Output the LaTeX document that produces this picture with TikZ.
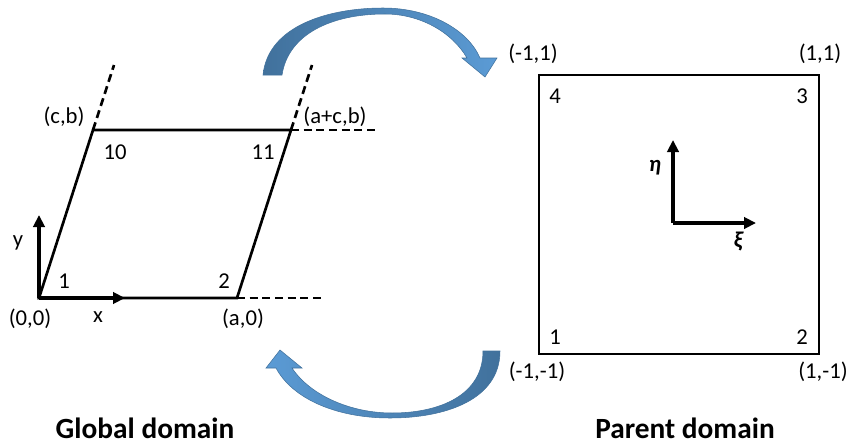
\documentclass[tikz,border=0pt]{standalone}
\usepackage{fontspec}
\setmainfont{Carlito}
\usetikzlibrary{arrows.meta,positioning,calc}
\definecolor{bend}{HTML}{41719C}
\definecolor{bendlt}{HTML}{5B9BD5}
\tikzset{
  edge/.style={line width=2pt,black},
  ext/.style={edge,dash pattern=on 6pt off 3.5pt},
  axis/.style={-{Triangle[length=9pt,width=8.5pt]},line width=2.5pt},
  lbl/.style={font=\fontsize{17}{19}\selectfont,inner sep=0pt},
  title/.style={font=\bfseries\fontsize{22}{25}\selectfont,inner sep=0pt,anchor=base},
  bigarrow/.style={draw=bend,line width=0.4pt}
}

\begin{document}
\begin{tikzpicture}[x=0.75pt,y=-0.75pt]
\useasboundingbox (0,0) rectangle (849,446);
% global domain
\coordinate (n1) at (39,298);
\coordinate (n2) at (237,298);
\coordinate (n11) at (291,130);
\coordinate (n10) at (93,130);
\coordinate (e2) at (323,298);
\coordinate (e11) at (378,130);
\coordinate (u10) at (114,65);
\coordinate (u11) at (312,65);
\coordinate (ya) at (39,215);
\coordinate (xa) at (125,298);
\draw[edge] (n1) -- (n2) -- (n11) -- (n10) -- cycle;
\draw[ext] (n2) -- (e2);
\draw[ext] (n11) -- (e11);
\draw[ext] (n10) -- (u10);
\draw[ext] (n11) -- (u11);
\draw[axis] (n1) -- (ya);
\draw[axis] (n1) -- (xa);
\node[lbl] (l00) at (30,319) {(0,0)};
\node[lbl] (lx) at (98,317) {x};
\node[lbl] (ly) at (18,243) {y};
\node[lbl] (la0) at (243,319) {(a,0)};
\node[lbl] (lcb) at (64,117) {(c,b)};
\node[lbl] (lacb) at (335,117) {(a+c,b)};
\node[lbl] (g1) at (64,281) {1};
\node[lbl] (g2) at (224,281) {2};
\node[lbl] (g10) at (115,152) {10};
\node[lbl] (g11) at (263,152) {11};
\node[title] (tg) at (145,438) {Global domain};
% parent domain
\coordinate (p1) at (539,354);
\coordinate (p3) at (819,75);
\coordinate (o) at (673,223);
\coordinate (eta) at (673,140);
\coordinate (xi) at (756,223);
\draw[edge,line width=2.2pt] (p1) rectangle (p3);
\draw[axis] (o) -- (eta);
\draw[axis] (o) -- (xi);
\node[lbl,font=\bfseries\itshape\fontsize{17}{19}\selectfont] (leta) at (655,168) {η};
\node[lbl,font=\bfseries\itshape\fontsize{17}{19}\selectfont] (lxi) at (738,241) {ξ};
\node[lbl] (lmm) at (537,372) {(-1,-1)};
\node[lbl] (lpm) at (823,372) {(1,-1)};
\node[lbl] (lmp) at (533,54) {(-1,1)};
\node[lbl] (lpp) at (820,54) {(1,1)};
\node[lbl] (q1) at (555,337) {1};
\node[lbl] (q2) at (802,337) {2};
\node[lbl] (q3) at (802,96) {3};
\node[lbl] (q4) at (555,96) {4};
\node[title] (tp) at (685,438) {Parent domain};
% mapping arrows
\shadedraw[bigarrow,left color=bend,right color=bendlt]
  (263,75) .. controls (268,25) and (330,8) .. (383,8)
  .. controls (430,8) and (468,30) .. (480,58) -- (497,58) -- (485,77)
  -- (462,58) -- (467,58) .. controls (452,32) and (420,14) .. (385,14)
  .. controls (330,14) and (288,35) .. (282,75) -- cycle;
\shadedraw[bigarrow,left color=bendlt,right color=bend]
  (500,351) .. controls (500,400) and (445,418) .. (390,418)
  .. controls (335,418) and (292,398) .. (276,368) -- (266,368) -- (280,350)
  -- (302,368) -- (292,368) .. controls (310,395) and (350,413) .. (392,413)
  .. controls (440,413) and (483,395) .. (483,351) -- cycle;
\end{tikzpicture}
\end{document}
